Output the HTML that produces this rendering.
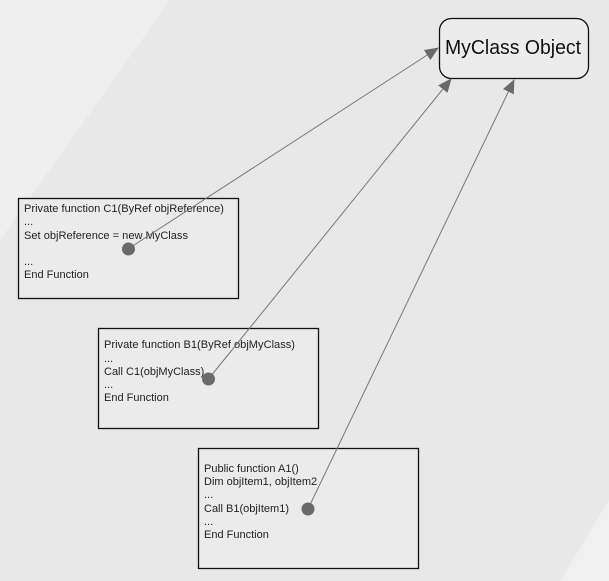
<!DOCTYPE html>
<html><head><meta charset="utf-8"><style>
body{margin:0;width:609px;height:581px;overflow:hidden;background:#e8e8e8;font-family:"Liberation Sans",Arial,sans-serif}
svg{position:absolute;left:0;top:0}
</style></head><body>
<svg width="609" height="581" viewBox="0 0 609 581">
<defs>
<marker id="a" markerWidth="14" markerHeight="12" refX="13" refY="6" orient="auto" markerUnits="userSpaceOnUse">
<path d="M0,0 L14,6 L0,12 Z" fill="#6a6a6a"/></marker>
</defs>
<rect width="609" height="581" fill="#e8e8e8"/>
<polygon points="0,0 170,0 0,240" fill="#efefef"/>
<polygon points="609,500 609,581 560,581" fill="#f0f0f0"/>
<rect x="439.5" y="18.5" width="149" height="60" rx="12" fill="#ececec" stroke="#111" stroke-width="1.3"/>
<text x="445" y="54" font-size="20" fill="#111" textLength="136" lengthAdjust="spacingAndGlyphs">MyClass Object</text>
<g fill="#ebebeb" stroke="#111" stroke-width="1.3">
<rect x="18.5" y="198.5" width="220" height="100"/>
<rect x="98.5" y="328.5" width="220" height="100"/>
<rect x="198.5" y="448.5" width="220" height="120"/>
</g>
<g font-size="11" fill="#222">
<text x="24" y="212" textLength="200" lengthAdjust="spacingAndGlyphs">Private function C1(ByRef objReference)</text>
<text x="24" y="225">...</text>
<text x="24" y="239" textLength="164" lengthAdjust="spacingAndGlyphs">Set objReference = new MyClass</text>
<text x="24" y="265">...</text>
<text x="24" y="278">End Function</text>
<text x="104" y="348" textLength="191" lengthAdjust="spacingAndGlyphs">Private function B1(ByRef objMyClass)</text>
<text x="104" y="362">...</text>
<text x="104" y="375">Call C1(objMyClass)</text>
<text x="104" y="388">...</text>
<text x="104" y="401">End Function</text>
<text x="204" y="472">Public function A1()</text>
<text x="204" y="485">Dim objItem1, objItem2</text>
<text x="204" y="498">...</text>
<text x="204" y="512">Call B1(objItem1)</text>
<text x="204" y="525">...</text>
<text x="204" y="538">End Function</text>
</g>
<g stroke="#777" stroke-width="1" fill="none">
<line x1="128" y1="249" x2="438" y2="48" marker-end="url(#a)"/>
<line x1="208.5" y1="379" x2="451" y2="79" marker-end="url(#a)"/>
<line x1="308" y1="509" x2="514" y2="80" marker-end="url(#a)"/>
</g>
<g fill="#6a6a6a">
<circle cx="128.5" cy="249" r="6.5"/>
<circle cx="208.5" cy="379" r="6.5"/>
<circle cx="308" cy="509" r="6.5"/>
</g>
</svg>
</body></html>
